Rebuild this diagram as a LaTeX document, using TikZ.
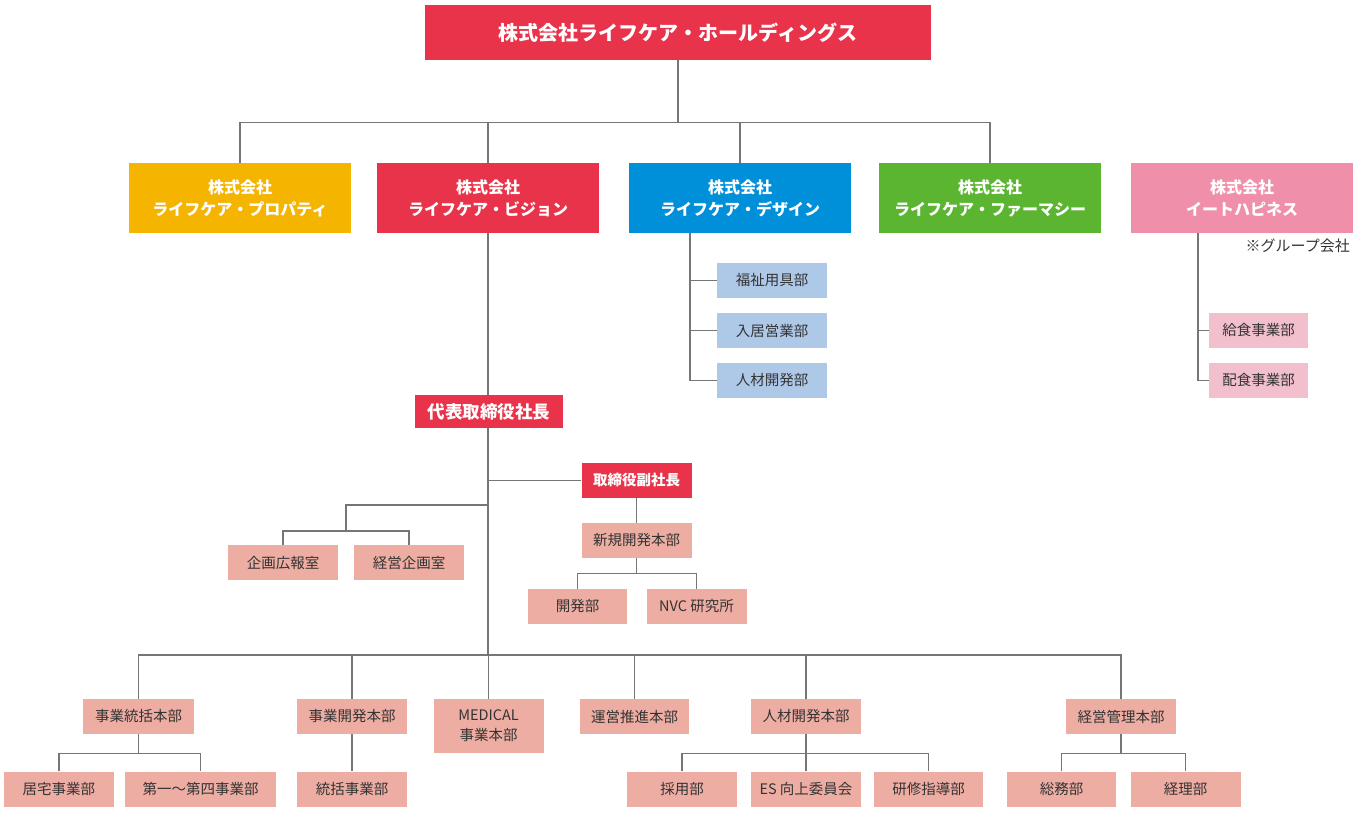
\documentclass[tikz,border=0pt]{standalone}
\usepackage{fontspec}
\setmainfont{Noto Sans CJK JP}
\definecolor{cred}{HTML}{E8334A}
\definecolor{cyel}{HTML}{F5B400}
\definecolor{cblue}{HTML}{0090DA}
\definecolor{cgreen}{HTML}{5BB531}
\definecolor{cpink}{HTML}{EF8FAA}
\definecolor{clblue}{HTML}{AEC8E8}
\definecolor{clpink}{HTML}{F2BFCD}
\definecolor{csalmon}{HTML}{EEADA3}
\definecolor{ctext}{HTML}{333333}
\definecolor{cline}{HTML}{767676}
\begin{document}
\begin{tikzpicture}[x=1pt,y=-1pt,
  bx/.style={rectangle,inner sep=0pt,align=center},
  hq/.style={bx,fill=cred,text=white,minimum width=506pt,minimum height=55pt,font=\fontsize{20}{22}\selectfont\bfseries},
  co/.style={bx,fill=#1,text=white,minimum width=222pt,minimum height=70pt,font=\fontsize{16}{22}\selectfont\bfseries},
  dept/.style={bx,fill=csalmon,text=ctext,minimum width=#1,minimum height=35pt,font=\fontsize{14.5}{20}\selectfont},
  dept/.default=110pt,
  boss/.style={bx,fill=cred,text=white,font=\bfseries},
  link/.style={draw=cline,line width=1.3pt}]
\fill[white] (0,0) rectangle (1353,826);
\useasboundingbox (0,0) rectangle (1353,826);

% top
\node[hq] (hq) at (678,32.5) {株式会社ライフケア・ホールディングス};
% companies
\node[co=cyel] (prop) at (240,198) {株式会社\\ライフケア・プロパティ};
\node[co=cred] (vis) at (488,198) {株式会社\\ライフケア・ビジョン};
\node[co=cblue] (des) at (740,198) {株式会社\\ライフケア・デザイン};
\node[co=cgreen] (phar) at (990,198) {株式会社\\ライフケア・ファーマシー};
\node[co=cpink] (eat) at (1242,198) {株式会社\\イートハピネス};
\node[bx,anchor=east,text=ctext,font=\fontsize{15}{18}\selectfont] (note) at (1350,246) {※グループ会社};

% design departments
\node[dept,fill=clblue] (d1) at (772,280.5) {福祉用具部};
\node[dept,fill=clblue] (d2) at (772,330.5) {入居営業部};
\node[dept,fill=clblue] (d3) at (772,380.5) {人材開発部};
% eat happiness departments
\node[dept=99pt,fill=clpink] (e1) at (1258.5,330.5) {給食事業部};
\node[dept=99pt,fill=clpink] (e2) at (1258.5,380.5) {配食事業部};

% vision
\node[boss,minimum width=148pt,minimum height=33pt,font=\fontsize{17.5}{20}\selectfont\bfseries] (ceo) at (489,411.5) {代表取締役社長};
\node[boss,minimum width=110pt,minimum height=35pt,font=\fontsize{14.5}{20}\selectfont\bfseries] (vp) at (636.5,480.5) {取締役副社長};
\node[dept] (nd) at (636.5,540.5) {新規開発本部};
\node[dept=99pt] (kai) at (577.5,606.5) {開発部};
\node[dept=100pt] (nvc) at (696.5,606.5) {NVC 研究所};
\node[dept] (kk) at (283,562.5) {企画広報室};
\node[dept] (kei) at (409,562.5) {経営企画室};

% bottom row
\node[dept=111pt] (jt) at (138.5,716.5) {事業統括本部};
\node[dept] (jk) at (352,716.5) {事業開発本部};
\node[dept,minimum height=54pt] (med) at (488.5,726) {MEDICAL\\事業本部};
\node[dept=109pt] (un) at (634.5,716.5) {運営推進本部};
\node[dept] (jz) at (806,716.5) {人材開発本部};
\node[dept] (kk2) at (1121,716.5) {経営管理本部};

% sub row
\node[dept] (kt) at (59,789) {居宅事業部};
\node[dept=151pt] (dai) at (200.5,789) {第一～第四事業部};
\node[dept] (tk) at (352,789) {統括事業部};
\node[dept] (sai) at (682,789) {採用部};
\node[dept] (es) at (806,789) {ES 向上委員会};
\node[dept=109pt] (ken) at (928.5,789) {研修指導部};
\node[dept=109pt] (som) at (1061.5,789) {総務部};
\node[dept] (kei2) at (1185.5,789) {経理部};

% connectors: top
\coordinate (tb) at (678,122.5);
\draw[link] (hq.south) -- (hq.south |- tb);
\draw[link] (prop.north) -- (prop.north |- tb) -- (phar.north |- tb) -- (phar.north);
\draw[link] (vis.north) -- (vis.north |- tb);
\draw[link] (des.north) -- (des.north |- tb);

% design
\coordinate (dv) at ([xshift=-50pt]des.south);
\draw[link] (dv) |- (d3.west);
\draw[link] (d1.west) -- (d1.west -| dv);
\draw[link] (d2.west) -- (d2.west -| dv);
% eat
\coordinate (ev) at ([xshift=-44pt]eat.south);
\draw[link] (ev) |- (e2.west);
\draw[link] (e1.west) -- (e1.west -| ev);

% vision
\coordinate (bb) at (488,655);
\draw[link] (vis.south) -- (vis.south |- ceo.north);
\draw[link] (vis.south |- ceo.south) -- (bb);
\draw[link] (vp.west) -- (vp.west -| bb);
\draw[link] (vp.south) -- (nd.north);
\path (nd.south) ++(0,15) coordinate (j4);
\draw[link] (nd.south) -- (j4);
\draw[link] (kai.north) |- (j4) -| (nvc.north);
\coordinate (lt) at (488,505);
\coordinate (lj) at (346,531);
\draw[link] (lt) -| (lj);
\draw[link] (kk.north) |- (lj) -| (kei.north);

% bottom bus
\draw[link] (jt.north) -- (jt.north |- bb) -- (kk2.north |- bb) -- (kk2.north);
\draw[link] (jk.north) -- (jk.north |- bb);
\draw[link] (med.north) -- (med.north |- bb);
\draw[link] (un.north) -- (un.north |- bb);
\draw[link] (jz.north) -- (jz.north |- bb);

% sub rows
\path (jt.south) ++(0,19) coordinate (j1);
\draw[link] (jt.south) -- (j1);
\draw[link] (kt.north) |- (j1) -| (dai.north);
\draw[link] (jk.south) -- (tk.north);
\path (jz.south) ++(0,19) coordinate (j2);
\draw[link] (jz.south) -- (es.north);
\draw[link] (sai.north) |- (j2) -| (ken.north);
\path (kk2.south) ++(0,19) coordinate (j3);
\draw[link] (kk2.south) -- (j3);
\draw[link] (som.north) |- (j3) -| (kei2.north);
\end{tikzpicture}
\end{document}
